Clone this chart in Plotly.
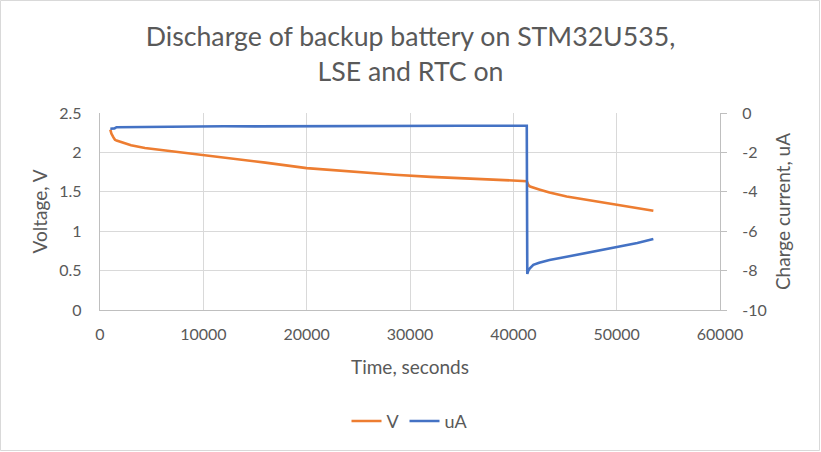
import plotly.graph_objects as go

# Voltage series (left axis)
time_v = [1000, 1100, 1300, 1450, 1600, 2000, 3000, 4350, 6000, 8000, 10000, 13000, 16000,
          20000, 24000, 28500, 32000, 36000, 40000, 41300, 41450, 41620, 42500, 43500,
          45160, 47500, 50000, 52000, 53550]
volts = [2.29, 2.24, 2.19, 2.16, 2.15, 2.13, 2.09, 2.055, 2.03, 2.00, 1.97, 1.92, 1.87,
         1.80, 1.76, 1.716, 1.69, 1.67, 1.65, 1.635, 1.585, 1.567, 1.53, 1.49,
         1.44, 1.39, 1.34, 1.30, 1.26]

# Charge current series (right axis)
time_a = [1000, 1400, 1600, 3000, 5000, 8000, 10000, 12000, 15000, 18000, 20000, 25000,
          30000, 35000, 40000, 41300, 41350, 41450, 41600, 41935, 42500, 43500, 45160,
          47500, 50000, 52000, 53550]
current = [-0.80, -0.78, -0.72, -0.71, -0.70, -0.70, -0.69, -0.67, -0.68, -0.67, -0.67, -0.66,
           -0.66, -0.65, -0.65, -0.65, -8.17, -8.00, -7.88, -7.71, -7.60, -7.46, -7.30,
           -7.06, -6.81, -6.60, -6.40]

x_ticks = [0, 10000, 20000, 30000, 40000, 50000, 60000]
v_ticks = [0, 0.5, 1, 1.5, 2, 2.5]
v_labels = ["0", "0.5", "1", "1.5", "2", "2.5"]
a_ticks = [-10, -8, -6, -4, -2, 0]

FONT = "Lato"
TXT = "#595959"
GRID = "#D9D9D9"
AXIS = "#BFBFBF"

W, H = 821, 452
ML, MR, MT, MB = 100, 101, 113, 142

fig = go.Figure()
fig.add_trace(go.Scatter(x=time_v, y=volts, name="V", mode="lines",
                         line=dict(color="#ED7D31", width=2.6), yaxis="y"))
fig.add_trace(go.Scatter(x=time_a, y=current, name="uA", mode="lines",
                         line=dict(color="#4472C4", width=2.6), yaxis="y2"))

pw = W - ML - MR
ph = H - MT - MB
fig.add_shape(type="rect", xref="paper", yref="paper",
              x0=(0.5 - ML) / pw, x1=(W - 1.5 - ML) / pw,
              y0=-(MB - 1.5) / ph, y1=(H - MB - 0.5) / ph,
              line=dict(color="#D9D9D9", width=1), layer="below")

fig.update_layout(
    width=W, height=H,
    margin=dict(l=ML, r=MR, t=MT, b=MB),
    paper_bgcolor="white", plot_bgcolor="white",
    font=dict(family=FONT, color=TXT, size=16),
    title=dict(text="Discharge of backup battery on STM32U535,<br>LSE and RTC on",
               x=0.5, xref="container", xanchor="center",
               y=1 - 46 / H, yref="container", yanchor="top",
               font=dict(family=FONT, size=26.7, color=TXT)),
    xaxis=dict(range=[0, 60000], tickvals=x_ticks, ticktext=[str(t) for t in x_ticks],
               showgrid=True, gridcolor=GRID, gridwidth=1.3,
               showline=True, linecolor=AXIS, linewidth=1.3,
               zeroline=False, ticks="", ticklabelstandoff=10, automargin=False,
               title=dict(text="Time, seconds", standoff=18, font=dict(size=19))),
    yaxis=dict(range=[0, 2.5], tickvals=v_ticks, ticktext=v_labels,
               showgrid=True, gridcolor=GRID, gridwidth=1.3,
               showline=True, linecolor=AXIS, linewidth=1.3,
               zeroline=False, ticks="", ticklabelstandoff=14, automargin=False,
               title=dict(text="Voltage, V", standoff=6, font=dict(size=19))),
    yaxis2=dict(range=[-10, 0], tickvals=a_ticks, ticktext=[str(t) for t in a_ticks],
                overlaying="y", side="right", showgrid=False,
                showline=True, linecolor=AXIS, linewidth=1.3,
                zeroline=False, ticks="outside", ticklen=6, tickcolor=AXIS, tickwidth=1.3,
                ticklabelstandoff=12, automargin=False,
                title=dict(text="Charge current, uA", standoff=10, font=dict(size=19))),
    legend=dict(orientation="h", x=0.5, xanchor="center", y=-0.565, yanchor="middle",
                font=dict(size=18), itemwidth=30, traceorder="normal"),
    showlegend=True,
)

fig.write_html("out.html", config={"displayModeBar": False},
               post_script="document.body.style.margin='0';")
